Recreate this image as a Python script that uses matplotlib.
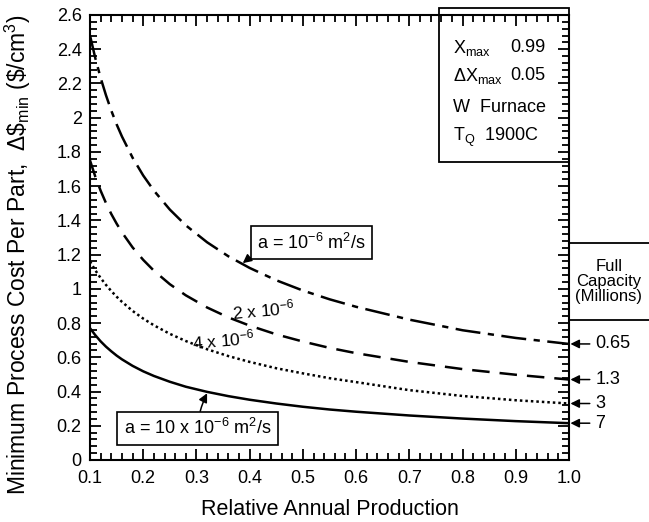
import numpy as np
import matplotlib
matplotlib.use('Agg')
import matplotlib.pyplot as plt
from matplotlib.ticker import MultipleLocator
from matplotlib.patches import Rectangle

plt.rcParams['font.family'] = ['Liberation Sans', 'DejaVu Sans']
plt.rcParams['mathtext.fontset'] = 'custom'
plt.rcParams['mathtext.rm'] = 'Liberation Sans'
plt.rcParams['mathtext.it'] = 'Liberation Sans:italic'

# Données
production = [0.10, 0.11, 0.12, 0.13, 0.14, 0.15, 0.16, 0.18, 0.20, 0.22,
              0.25, 0.28, 0.32, 0.36, 0.40, 0.45, 0.50, 0.55, 0.60, 0.70,
              0.80, 0.90, 1.00]
cout_a1 = [2.48, 2.347, 2.232, 2.131, 2.041, 1.961, 1.89, 1.766, 1.662, 1.574,
           1.463, 1.371, 1.272, 1.19, 1.122, 1.05, 0.99, 0.939, 0.895, 0.82,
           0.758, 0.713, 0.678]
cout_a2 = [1.75, 1.655, 1.573, 1.501, 1.437, 1.381, 1.33, 1.242, 1.169, 1.106,
           1.027, 0.962, 0.891, 0.833, 0.785, 0.734, 0.692, 0.655, 0.624, 0.573,
           0.531, 0.498, 0.47]
cout_a4 = [1.16, 1.108, 1.063, 1.023, 0.987, 0.954, 0.924, 0.871, 0.826, 0.787,
           0.737, 0.695, 0.647, 0.607, 0.573, 0.536, 0.506, 0.478, 0.455, 0.408,
           0.374, 0.349, 0.33]
cout_a10 = [0.77, 0.729, 0.693, 0.662, 0.635, 0.61, 0.588, 0.55, 0.518, 0.491,
            0.457, 0.428, 0.398, 0.373, 0.352, 0.33, 0.311, 0.295, 0.282, 0.26,
            0.242, 0.227, 0.215]
capacites = ['0.65', '1.3', '3', '7']

fig = plt.figure(figsize=(6.49, 5.22), dpi=100)
ax = fig.add_axes([0.1387, 0.1188, 0.738, 0.8525])

lw = 1.8
ax.plot(production, cout_a1, color='black', lw=lw, dashes=(10, 3, 2.5, 3))
ax.plot(production, cout_a2, color='black', lw=lw, dashes=(7, 4))
ax.plot(production, cout_a4, color='black', lw=lw, dashes=(1, 1.2))
ax.plot(production, cout_a10, color='black', lw=lw)

ax.set_xlim(0.1, 1.0)
ax.set_ylim(0, 2.6)
ax.set_xticks(np.arange(0.1, 1.01, 0.1))
ax.set_xticklabels(['0.1', '0.2', '0.3', '0.4', '0.5', '0.6', '0.7', '0.8', '0.9', '1.0'])
ax.set_yticks(np.arange(0, 2.61, 0.2))
ax.set_yticklabels(['0', '0.2', '0.4', '0.6', '0.8', '1', '1.2', '1.4', '1.6',
                    '1.8', '2', '2.2', '2.4', '2.6'])
ax.xaxis.set_minor_locator(MultipleLocator(0.02))
ax.yaxis.set_minor_locator(MultipleLocator(0.04))
ax.tick_params(which='both', direction='in', top=True, right=True, labelsize=13, width=1.3)
ax.tick_params(which='major', length=8)
ax.tick_params(which='minor', length=5)
ax.tick_params(axis='x', pad=7)
ax.tick_params(axis='y', pad=6)
for s in ax.spines.values():
    s.set_linewidth(1.5)

ax.set_xlabel('Relative Annual Production', fontsize=15.5, labelpad=9)
ax.set_ylabel(r'Minimum Process Cost Per Part,  $\Delta\$_{\rm min}$ (\$/cm$^3$)',
              fontsize=16.5)
ax.yaxis.set_label_coords(-0.118, 0.462)

# Encadré des paramètres
ax.add_patch(Rectangle((0.756, 1.741), 0.244, 0.9, fill=False, lw=1.3, clip_on=False))
ax.text(0.782, 2.41, r'X$_{\rm max}$', fontsize=13, va='center')
ax.text(0.89, 2.41, '0.99', fontsize=13, va='center')
ax.text(0.782, 2.245, r'$\Delta$X$_{\rm max}$', fontsize=13, va='center')
ax.text(0.89, 2.245, '0.05', fontsize=13, va='center')
ax.text(0.782, 2.06, 'W  Furnace', fontsize=13, va='center')
ax.text(0.782, 1.885, r'T$_{\rm Q}$  1900C', fontsize=13, va='center')

# Étiquettes des courbes
ax.annotate(r'a = 10$^{-6}$ m$^2$/s', xy=(0.387, 1.15), xytext=(0.414, 1.27),
            fontsize=13, va='center', ha='left',
            bbox=dict(boxstyle='square,pad=0.35', fc='white', ec='black', lw=1.2),
            arrowprops=dict(arrowstyle='-|>', color='black', lw=1.1,
                            connectionstyle='arc3,rad=0.2', shrinkA=0, shrinkB=0))
ax.text(0.425, 0.88, r'2 x 10$^{-6}$', fontsize=12.5, ha='center', va='center', rotation=5)
ax.text(0.35, 0.70, r'4 x 10$^{-6}$', fontsize=12.5, ha='center', va='center', rotation=5)
ax.annotate(r'a = 10 x 10$^{-6}$ m$^2$/s', xy=(0.32, 0.39), xytext=(0.163, 0.185),
            fontsize=13, va='center', ha='left',
            bbox=dict(boxstyle='square,pad=0.35', fc='white', ec='black', lw=1.2),
            arrowprops=dict(arrowstyle='-|>', color='black', lw=1.1,
                            connectionstyle='arc3,rad=-0.1', shrinkA=0, shrinkB=0))

# Capacité pleine à droite
trans = ax.get_yaxis_transform()
ax.plot([1.0, 1.17], [1.27, 1.27], color='black', lw=1.3, transform=trans, clip_on=False)
ax.plot([1.0, 1.17], [0.815, 0.815], color='black', lw=1.3, transform=trans, clip_on=False)
ax.text(1.083, 1.045, 'Full\nCapacity\n(Millions)', transform=trans, fontsize=12,
        ha='center', va='center', linespacing=1.0)
fins = [cout_a1[-1], cout_a2[-1], cout_a4[-1], cout_a10[-1]]
for val, lab in zip(fins, capacites):
    ax.annotate(lab, xy=(1.003, val), xycoords=trans, xytext=(1.055, val), textcoords=trans,
                fontsize=13, va='center', ha='left',
                arrowprops=dict(arrowstyle='-|>', color='black', lw=1.1,
                                shrinkA=2, shrinkB=0))

fig.savefig('out.png', dpi=100)
